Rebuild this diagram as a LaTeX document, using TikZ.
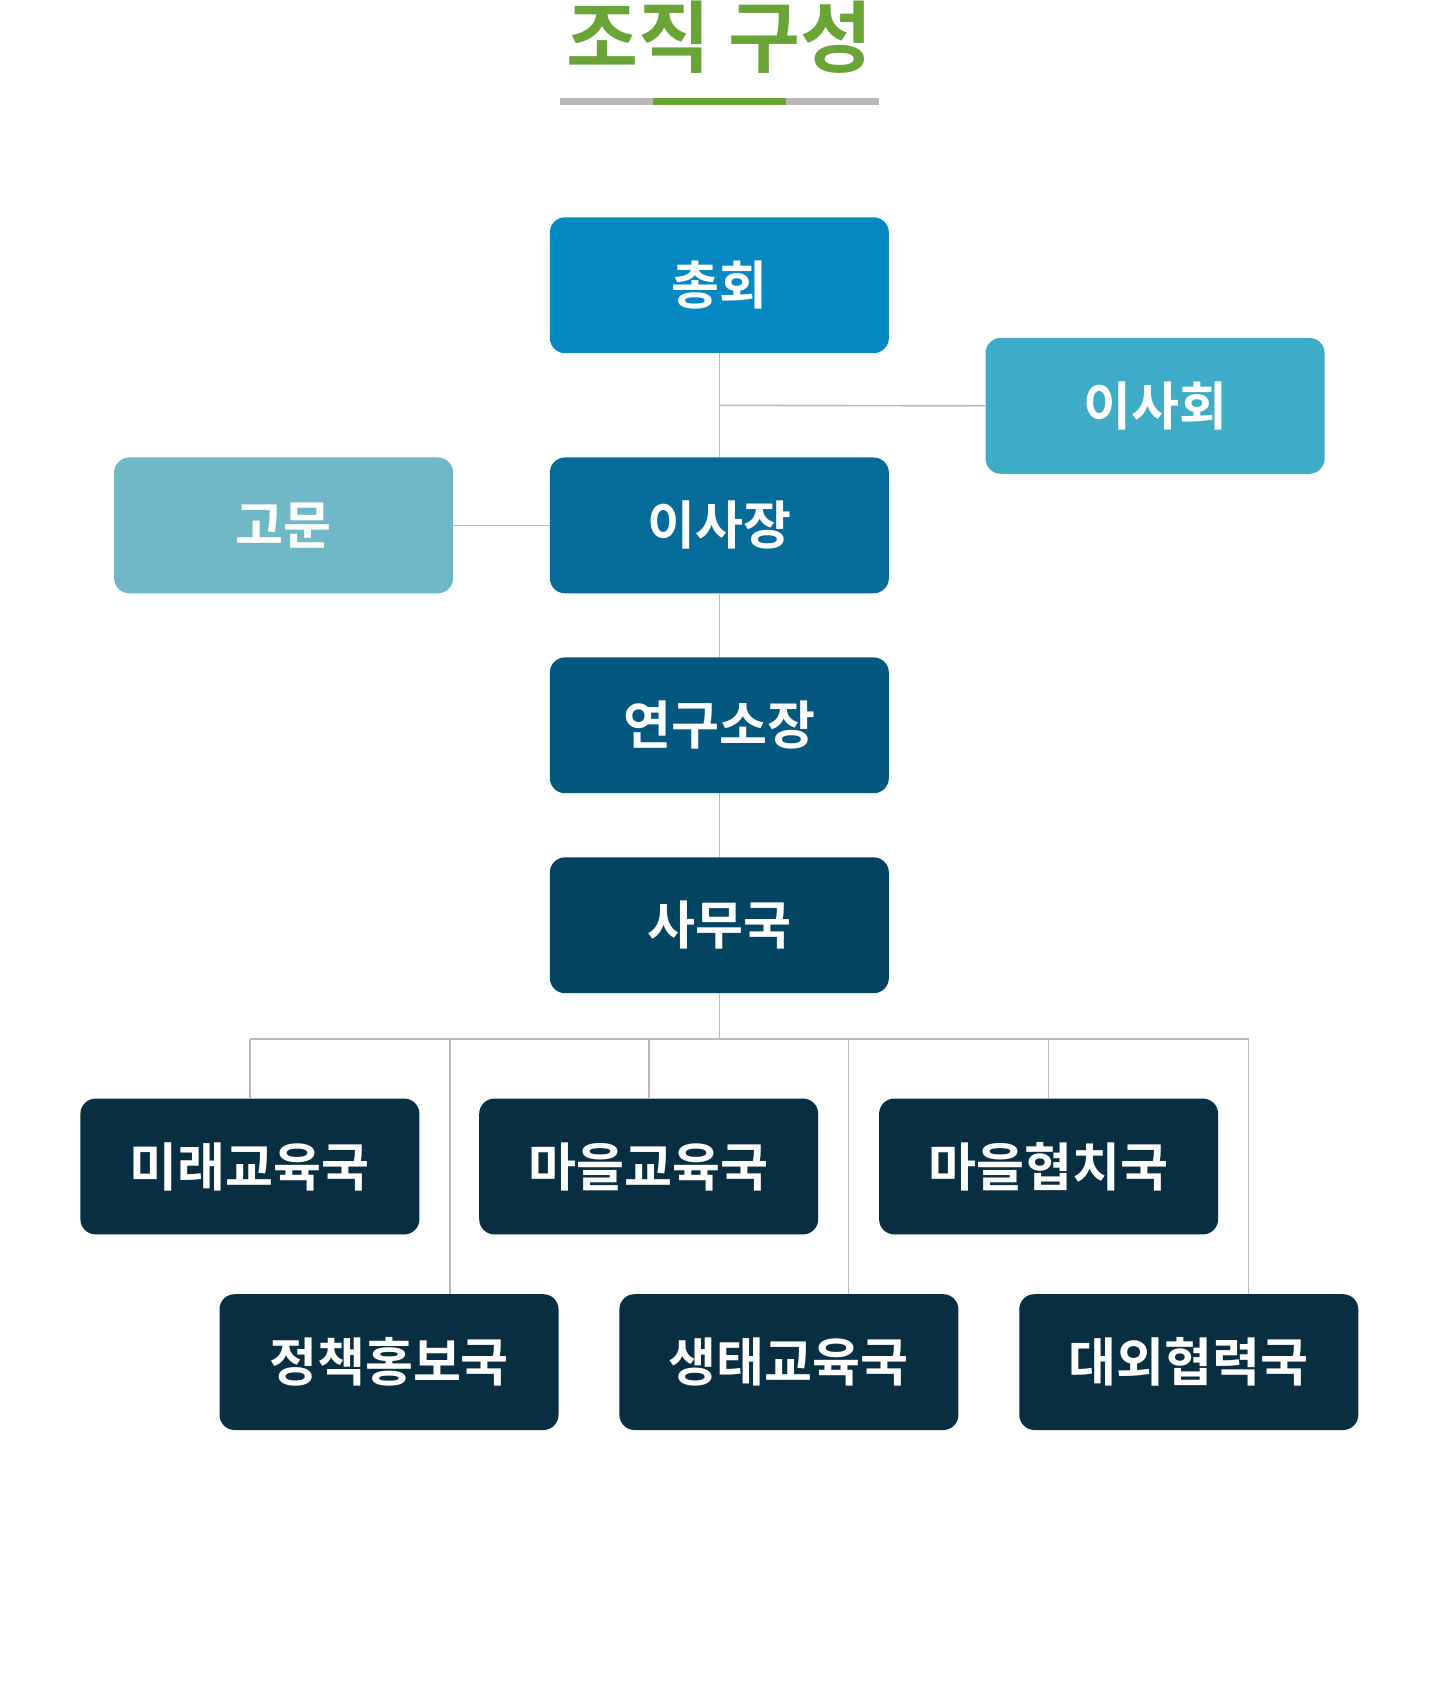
\documentclass[tikz,border=0pt]{standalone}
\usepackage{fontspec}
\newfontfamily\kr{Noto Sans CJK KR}[BoldFont={Noto Sans CJK KR Bold}]
\begin{document}
\begin{tikzpicture}[x=1pt,y=-1pt,
 box/.style={rounded corners=14pt,minimum width=312pt,minimum height=125pt,inner sep=0pt,text=white,font=\kr\bfseries\fontsize{48}{50}\selectfont},
 ln/.style={draw=black!27,line width=1.5pt}]
\definecolor{c1}{HTML}{0689C2}\definecolor{c2}{HTML}{3EACC6}\definecolor{c3}{HTML}{70B8C8}
\definecolor{c4}{HTML}{056C9A}\definecolor{c5}{HTML}{045880}\definecolor{c6}{HTML}{034462}
\definecolor{c7}{HTML}{082E42}\definecolor{gr}{HTML}{6AA437}
\useasboundingbox (0,0) rectangle (1325,1570);
\node[font=\kr\bfseries\fontsize{72}{74}\selectfont,text=gr] (t) at (662,34) {조직 구성};
\fill[black!28] (515,90) rectangle (809,97);
\fill[gr] (601,90) rectangle (723,97);
\node[box,fill=c1] (a) at (662,262.5) {총회};
\node[box,fill=c2] (b) at (1063,373.5) {이사회};
\node[box,fill=c3] (c) at (261,483.5) {고문};
\node[box,fill=c4] (d) at (662,483.5) {이사장};
\node[box,fill=c5] (e) at (662,667.5) {연구소장};
\node[box,fill=c6] (f) at (662,851.5) {사무국};
\node[box,fill=c7] (g1) at (230,1073.5) {미래교육국};
\node[box,fill=c7] (g2) at (597,1073.5) {마을교육국};
\node[box,fill=c7] (g3) at (965,1073.5) {마을협치국};
\node[box,fill=c7] (h1) at (358,1253.5) {정책홍보국};
\node[box,fill=c7] (h2) at (726,1253.5) {생태교육국};
\node[box,fill=c7] (h3) at (1094,1253.5) {대외협력국};
\coordinate (j) at (662,373);
\coordinate (bus) at (662,956);
\begin{scope}[on background layer/.try]
\draw[ln] (a.south) -- (d.north);
\draw[ln] (j) -- (b.west);
\draw[ln] (c.east) -- (d.west);
\draw[ln] (d.south) -- (e.north);
\draw[ln] (e.south) -- (f.north);
\draw[ln] (f.south) -- (bus);
\draw[ln] (230,956) -- (1149,956);
\draw[ln] (230,956) -- (g1.north);
\draw[ln] (597,956) -- (g2.north);
\draw[ln] (965,956) -- (g3.north);
\draw[ln] (414,956) -- (414,1191);
\draw[ln] (781,956) -- (781,1191);
\draw[ln] (1149,956) -- (1149,1191);
\end{scope}
\end{tikzpicture}
\end{document}
